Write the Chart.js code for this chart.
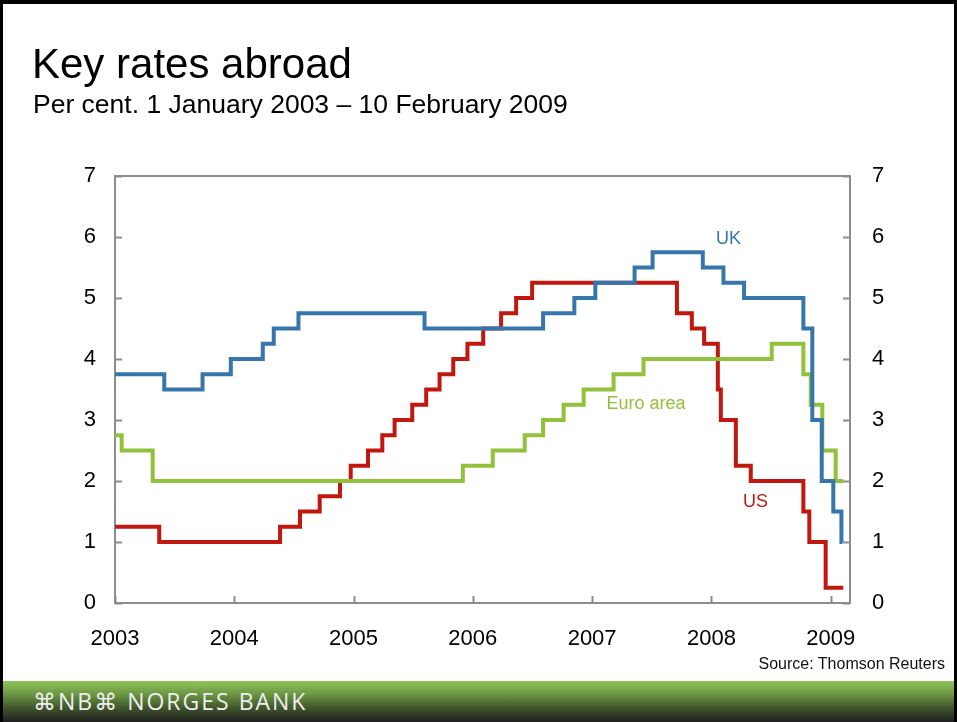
<!DOCTYPE html>
<html>
<head>
<meta charset="utf-8">
<script src="https://cdn.jsdelivr.net/npm/chart.js@4/dist/chart.umd.min.js"></script>
<style>
  html, body { margin: 0; padding: 0; background: #fff; }
  #page { position: relative; width: 957px; height: 722px; overflow: hidden; background: #fff;
          font-family: "Liberation Sans", Arial, sans-serif; }
  #chart { position: absolute; left: 0; top: 0; }
  .txt { position: absolute; white-space: nowrap; color: #000; line-height: 1; }
  #title { left: 32px; top: 43px; font-size: 42px; }
  #subtitle { left: 33px; top: 91px; font-size: 26.5px; }
  #source { right: 12px; top: 656px; font-size: 16px; color: #111; }
  #footer { position: absolute; left: 0; top: 681px; width: 957px; height: 41px;
            background: linear-gradient(#90c45a 0%, #6f9a45 30%, #41572c 65%, #1f1f1f 100%); }
  #logo { position: absolute; left: 33px; top: 690px; font-size: 23px; color: #eee; line-height: 1;
          font-family: "Open Sans", "DejaVu Sans", sans-serif; letter-spacing: 2px; }
  #frame { position: absolute; left: 0; top: 0; width: 957px; height: 722px; box-sizing: border-box;
           border-top: 4px solid #000; border-left: 3px solid #000; border-right: 3px solid #000; pointer-events: none; }
</style>
</head>
<body>
<div id="page">
  <canvas id="chart" width="957" height="722"></canvas>
  <div class="txt" id="title">Key rates abroad</div>
  <div class="txt" id="subtitle">Per cent. 1 January 2003 – 10 February 2009</div>
  <div class="txt" id="source">Source: Thomson Reuters</div>
  <div id="footer"></div>
  <div id="logo">⌘NB⌘ NORGES BANK</div>
  <div id="frame"></div>
</div>
<script>
// decimal years where each rate took effect
const usDates = [2003.0, 2003.371, 2004.384, 2004.551, 2004.716, 2004.886, 2004.976, 2005.121,
  2005.241, 2005.344, 2005.492, 2005.609, 2005.721, 2005.836, 2005.955, 2006.087, 2006.237,
  2006.363, 2006.497, 2007.711, 2007.836, 2007.939, 2008.054, 2008.079, 2008.205, 2008.330,
  2008.771, 2008.821, 2008.958, 2009.106];
const usRates = [1.25, 1.0, 1.25, 1.5, 1.75, 2.0, 2.25, 2.5,
  2.75, 3.0, 3.25, 3.5, 3.75, 4.0, 4.25, 4.5, 4.75,
  5.0, 5.25, 4.75, 4.5, 4.25, 3.5, 3.0, 2.25, 2.0,
  1.5, 1.0, 0.25, 0.25];

const ukDates = [2003.0, 2003.413, 2003.734, 2003.971, 2004.239, 2004.331, 2004.538, 2005.595,
  2006.589, 2006.851, 2007.027, 2007.356, 2007.507, 2007.928, 2008.101, 2008.274, 2008.771,
  2008.846, 2008.925, 2009.022, 2009.09, 2009.099];
const ukRates = [3.75, 3.5, 3.75, 4.0, 4.25, 4.5, 4.75, 4.5,
  4.75, 5.0, 5.25, 5.5, 5.75, 5.5, 5.25, 5.0, 4.5,
  3.0, 2.0, 1.5, 1.0, 1.0];

const euroDates = [2003.0, 2003.056, 2003.316, 2005.916, 2006.167, 2006.435, 2006.589, 2006.761,
  2006.929, 2007.180, 2007.431, 2008.506, 2008.771, 2008.833, 2008.930, 2009.042, 2009.106];
const euroRates = [2.75, 2.5, 2.0, 2.25, 2.5, 2.75, 3.0, 3.25,
  3.5, 3.75, 4.0, 4.25, 3.75, 3.25, 2.5, 2.0, 2.0];

const yearTicks = [2003, 2004, 2005, 2006, 2007, 2008, 2009];
const rateTicks = [0, 1, 2, 3, 4, 5, 6, 7];

const seriesNames = ["UK", "Euro area", "US"];
const seriesColors = ["#3776ad", "#92c13c", "#c0170e"];
// where each series name sits, in data units (year, per cent)
const labelYears = [2008.143, 2007.452, 2008.370];
const labelRates = [5.96, 3.26, 1.66];

const toPoints = (xs, ys) => xs.map((x, i) => ({ x: x, y: ys[i] }));

const tickFont = { family: "'Liberation Sans', Arial, sans-serif", size: 22 };

const frameAndTicks = {
  id: 'frameAndTicks',
  beforeDatasetsDraw(chart) {
    const { ctx, chartArea: a, scales } = chart;
    ctx.save();
    ctx.strokeStyle = '#8c8c8c';
    ctx.lineWidth = 2;
    ctx.strokeRect(a.left, a.top, a.right - a.left, a.bottom - a.top);
    ctx.beginPath();
    yearTicks.forEach(v => {
      const x = Math.round(scales.x.getPixelForValue(v)) + 0.5;
      ctx.moveTo(x, a.bottom); ctx.lineTo(x, a.bottom - 7);
    });
    rateTicks.forEach(v => {
      const y = Math.round(scales.y.getPixelForValue(v)) + 0.5;
      ctx.moveTo(a.left, y); ctx.lineTo(a.left + 7, y);
      ctx.moveTo(a.right, y); ctx.lineTo(a.right - 7, y);
    });
    ctx.stroke();
    ctx.restore();
  },
  afterDatasetsDraw(chart) {
    const { ctx, scales } = chart;
    ctx.save();
    ctx.font = "18px 'Liberation Sans', Arial, sans-serif";
    ctx.textAlign = 'center';
    ctx.textBaseline = 'middle';
    seriesNames.forEach((name, i) => {
      ctx.fillStyle = seriesColors[i];
      ctx.fillText(name, scales.x.getPixelForValue(labelYears[i]), scales.y.getPixelForValue(labelRates[i]));
    });
    ctx.restore();
  }
};

new Chart(document.getElementById('chart'), {
  type: 'line',
  data: {
    datasets: [
      { label: seriesNames[0], data: toPoints(ukDates, ukRates), borderColor: seriesColors[0] },
      { label: seriesNames[1], data: toPoints(euroDates, euroRates), borderColor: seriesColors[1] },
      { label: seriesNames[2], data: toPoints(usDates, usRates), borderColor: seriesColors[2] }
    ]
  },
  options: {
    responsive: false,
    animation: false,
    events: [],
    elements: {
      line: { borderWidth: 4, stepped: 'before', tension: 0, borderJoinStyle: 'miter', borderCapStyle: 'butt', fill: false },
      point: { radius: 0 }
    },
    layout: { padding: { left: 0, right: 0, top: 176, bottom: 69 } },
    plugins: { legend: { display: false }, tooltip: { enabled: false } },
    scales: {
      x: {
        type: 'linear', min: 2003, max: 2009.162,
        afterBuildTicks: axis => { axis.ticks = yearTicks.map(v => ({ value: v })); },
        afterFit: axis => { axis.height = 50; },
        grid: { display: false },
        border: { display: false },
        ticks: { color: '#000', font: tickFont, padding: 15, maxRotation: 0, callback: v => String(v) }
      },
      y: {
        position: 'left', min: 0, max: 7,
        afterBuildTicks: axis => { axis.ticks = rateTicks.map(v => ({ value: v })); },
        afterFit: axis => { axis.width = 115; },
        grid: { display: false },
        border: { display: false },
        ticks: { color: '#000', font: tickFont, padding: 11 }
      },
      y2: {
        position: 'right', min: 0, max: 7,
        afterBuildTicks: axis => { axis.ticks = rateTicks.map(v => ({ value: v })); },
        afterFit: axis => { axis.width = 107; },
        grid: { display: false },
        border: { display: false },
        ticks: { color: '#000', font: tickFont, padding: 14 }
      }
    }
  },
  plugins: [frameAndTicks]
});
</script>
</body>
</html>
